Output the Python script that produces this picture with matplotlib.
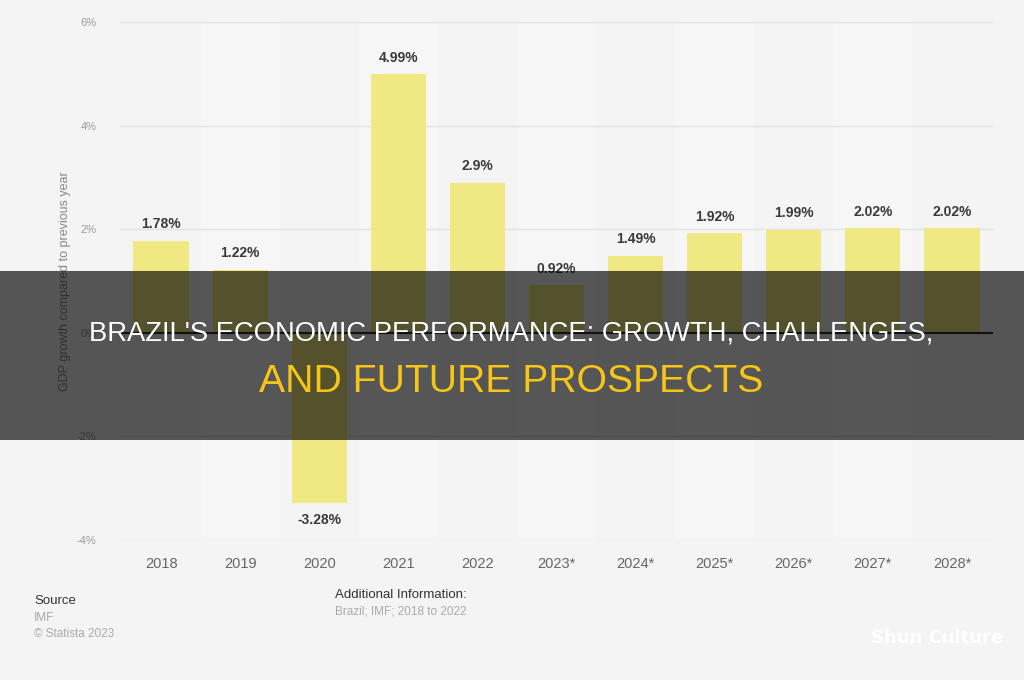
import matplotlib.pyplot as plt
import matplotlib.patches as mpatches

years = ['2018', '2019', '2020', '2021', '2022', '2023*', '2024*', '2025*', '2026*', '2027*', '2028*']
growth = [1.78, 1.22, -3.28, 4.99, 2.9, 0.92, 1.49, 1.92, 1.99, 2.02, 2.02]
labels = ['1.78%', '1.22%', '-3.28%', '4.99%', '2.9%', '0.92%', '1.49%', '1.92%', '1.99%', '2.02%', '2.02%']
yticks = [-4, -2, 0, 2, 4, 6]

bg = '#f4f4f4'
fig = plt.figure(figsize=(10.24, 6.8), dpi=100, facecolor=bg)
ax = fig.add_axes([120 / 1024, (680 - 540) / 680, (993 - 120) / 1024, (540 - 22) / 680])
ax.set_facecolor(bg)

x = list(range(len(years)))
# faint alternating column bands
for i in x:
    if i % 2 == 1:
        ax.axvspan(i - 0.5, i + 0.5, color='#f6f6f6', zorder=0, lw=0)

for t in yticks:
    ax.axhline(t, color='#e2e2e2', lw=1, zorder=1)
ax.axhline(0, color='#333333', lw=1.5, zorder=3)

ax.bar(x, growth, width=0.7, color='#f0e882', zorder=2)
for xi, v, lab in zip(x, growth, labels):
    if v >= 0:
        ax.text(xi, v + 0.18, lab, ha='center', va='bottom', fontsize=10,
                fontweight='bold', color='#3a3a3a', family='Liberation Sans', zorder=4)
    else:
        ax.text(xi, v - 0.2, lab, ha='center', va='top', fontsize=10,
                fontweight='bold', color='#3a3a3a', family='Liberation Sans', zorder=4)

ax.set_xlim(-0.52, 10.52)
ax.set_ylim(-4, 6)
ax.set_yticks(yticks)
ax.set_yticklabels([f'{t}%' for t in yticks], color='#999999', fontsize=8, family='Liberation Sans')
ax.set_xticks(x)
ax.set_xticklabels(years, color='#666666', fontsize=10.5, family='Liberation Sans')
ax.tick_params(axis='y', length=0, pad=17)
ax.tick_params(axis='x', length=0, pad=12)
for s in ax.spines.values():
    s.set_visible(False)
ax.set_ylabel('GDP growth compared to previous year', color='#888888', fontsize=9,
              family='Liberation Sans', labelpad=4)

# footer
ft = 'Liberation Sans'
fig.text(34 / 1024, 1 - 601 / 680, 'Source', fontsize=9.5, color='#333333', va='center', family=ft)
fig.text(34 / 1024, 1 - 618 / 680, 'IMF', fontsize=8.5, color='#aaaaaa', va='center', family=ft)
fig.text(34 / 1024, 1 - 634 / 680, '© Statista 2023', fontsize=8.5, color='#aaaaaa', va='center', family=ft)
fig.text(335 / 1024, 1 - 595 / 680, 'Additional Information:', fontsize=9.5, color='#333333', va='center', family=ft)
fig.text(335 / 1024, 1 - 611 / 680, 'Brazil; IMF; 2018 to 2022', fontsize=8.5, color='#aaaaaa', va='center', family=ft)
fig.text(1003 / 1024, 1 - 638 / 680, 'Shun Culture', fontsize=13, fontweight='bold',
         color='white', ha='right', va='center')

# title banner
fig.patches.append(mpatches.Rectangle((0, 1 - 440 / 680), 1, (440 - 271) / 680,
                                      transform=fig.transFigure, facecolor='black',
                                      lw=0, alpha=0.65, zorder=5))
fig.text(511 / 1024, 1 - 334 / 680, "BRAZIL'S ECONOMIC PERFORMANCE: GROWTH, CHALLENGES,",
         fontsize=19.7, color='white', ha='center', va='center', family='Liberation Sans', zorder=6)
fig.text(511 / 1024, 1 - 382 / 680, 'AND FUTURE PROSPECTS',
         fontsize=28.2, color='#f5c518', ha='center', va='center', family='Liberation Sans', zorder=6)

fig.savefig('out.png', dpi=100, facecolor=bg)
